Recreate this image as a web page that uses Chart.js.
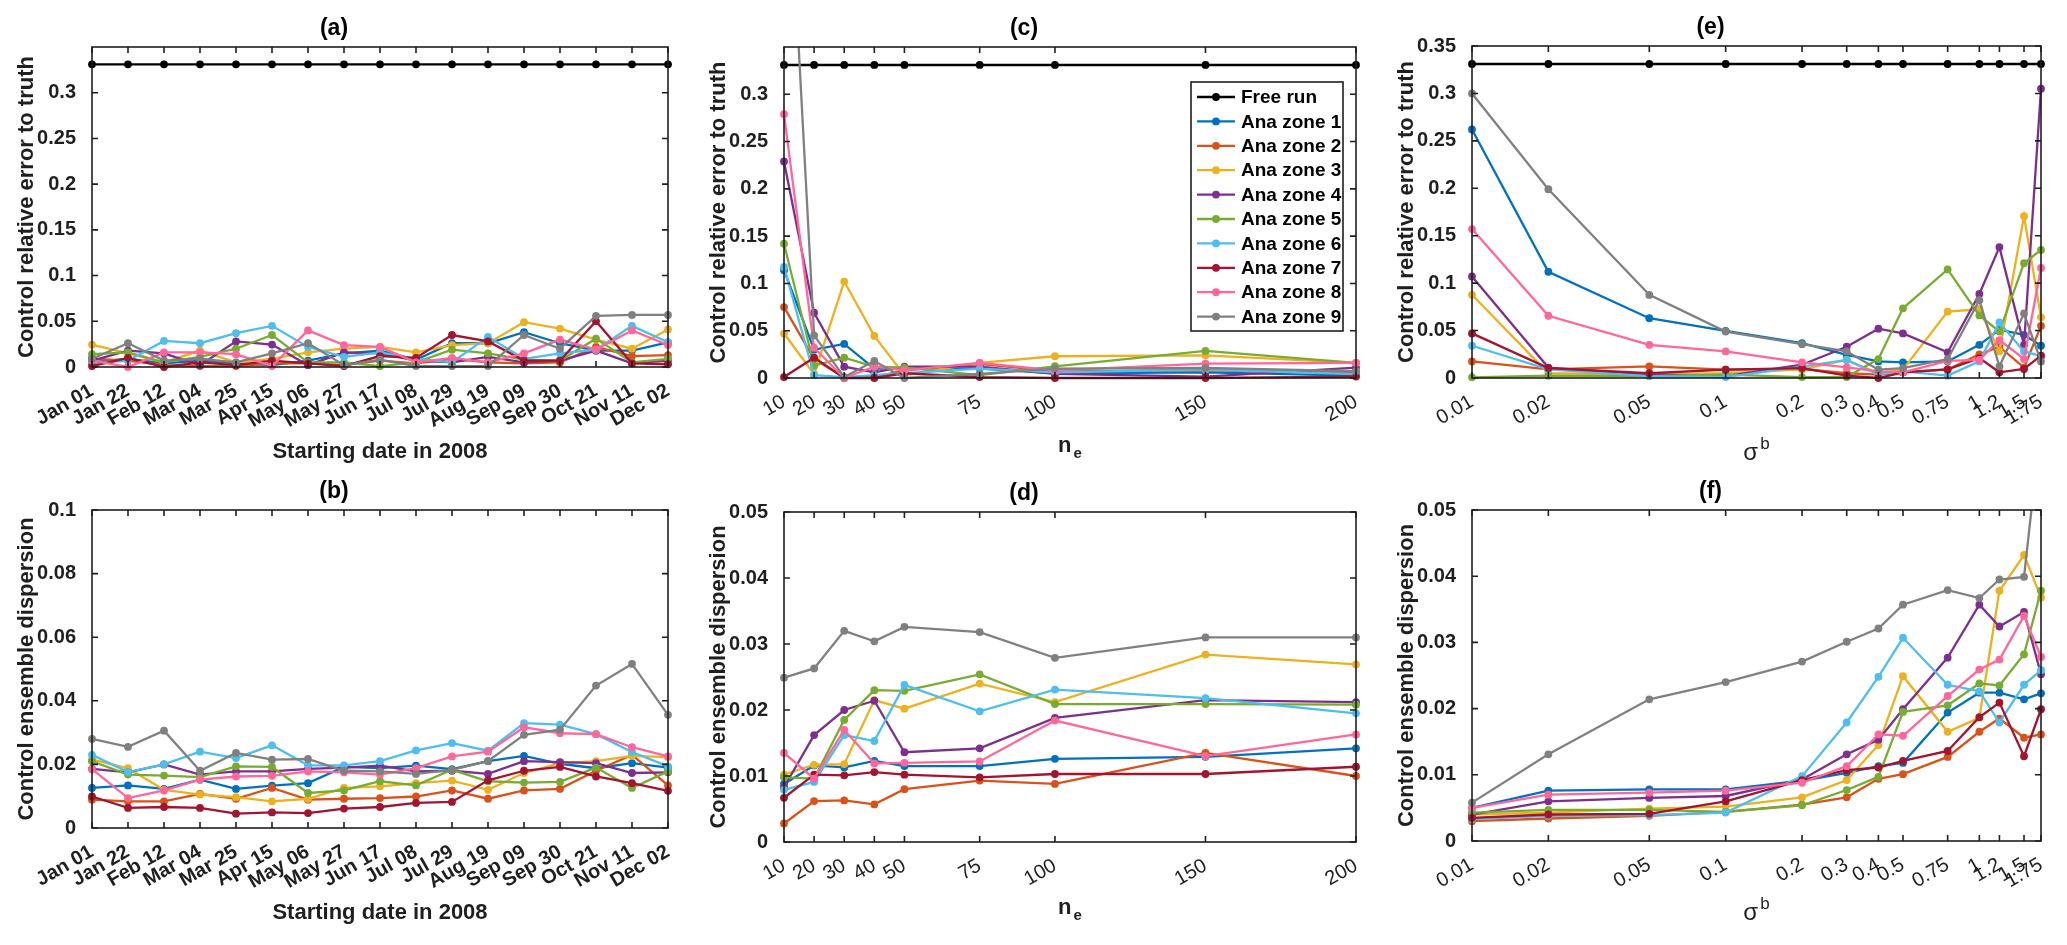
<!DOCTYPE html>
<html>
<head>
<meta charset="utf-8">
<title>Control error and dispersion</title>
<script src="https://cdn.jsdelivr.net/npm/chart.js@4.4.1/dist/chart.umd.min.js"></script>
<style>
  html, body { margin: 0; padding: 0; background: #fff; }
  body { width: 2067px; height: 945px; position: relative; overflow: hidden; }
  .panel { position: absolute; }
  #wa { left: 0px;    top: 5px;   width: 688px; height: 462px; }
  #wb { left: 0px;    top: 468px; width: 688px; height: 460px; }
  #wc { left: 692px;  top: 5px;   width: 684px; height: 468px; }
  #wd { left: 692px;  top: 470px; width: 684px; height: 467px; }
  #we { left: 1380px; top: 4px;   width: 681px; height: 469px; }
  #wf { left: 1380px; top: 468px; width: 681px; height: 468px; }
</style>
</head>
<body>
<div class="panel" id="wa"><canvas id="ca"></canvas></div>
<div class="panel" id="wb"><canvas id="cb"></canvas></div>
<div class="panel" id="wc"><canvas id="cc"></canvas></div>
<div class="panel" id="wd"><canvas id="cd"></canvas></div>
<div class="panel" id="we"><canvas id="ce"></canvas></div>
<div class="panel" id="wf"><canvas id="cf"></canvas></div>
<script>
// x values of the three experiments
const startDates = ['Jan 01', 'Jan 22', 'Feb 12', 'Mar 04', 'Mar 25', 'Apr 15', 'May 06', 'May 27', 'Jun 17',
                    'Jul 08', 'Jul 29', 'Aug 19', 'Sep 09', 'Sep 30', 'Oct 21', 'Nov 11', 'Dec 02'];
const ensembleSizes = [10, 20, 30, 40, 50, 75, 100, 150, 200];
const sigmaB = [0.01, 0.02, 0.05, 0.1, 0.2, 0.3, 0.4, 0.5, 0.75, 1, 1.2, 1.5, 1.75];

const seriesNames = ['Free run', 'Ana zone 1', 'Ana zone 2', 'Ana zone 3', 'Ana zone 4', 'Ana zone 5',
                     'Ana zone 6', 'Ana zone 7', 'Ana zone 8', 'Ana zone 9'];
const seriesColors = ['#000000', '#0072BD', '#D95319', '#EDB120', '#7E2F8E', '#77AC30',
                      '#4DBEEE', '#A2142F', '#FF6699', '#808080'];

// y tick labels
const errorTicks = [0, 0.05, 0.1, 0.15, 0.2, 0.25, 0.3];
const errorTicksSigma = [0, 0.05, 0.1, 0.15, 0.2, 0.25, 0.3, 0.35];
const dispersionTicksDate = [0, 0.02, 0.04, 0.06, 0.08, 0.1];
const dispersionTicks = [0, 0.01, 0.02, 0.03, 0.04, 0.05];

// (a) relative error vs starting date: free run, then zones 1..9
const errorByDate = [
  [0.331, 0.331, 0.331, 0.331, 0.331, 0.331, 0.331, 0.331, 0.331, 0.331, 0.331, 0.331, 0.331, 0.331, 0.331, 0.331, 0.331],
  [0.005, 0.009, 0.004, 0.007, 0.004, 0.002, 0.007, 0.015, 0.018, 0.008, 0.026, 0.026, 0.038, 0.026, 0.018, 0.018, 0.027],
  [0.009, 0.007, 0.002, 0.001, 0.001, 0.004, 0.004, 0.002, 0.007, 0.004, 0.009, 0.005, 0.004, 0.005, 0.022, 0.012, 0.013],
  [0.0245, 0.015, 0.005, 0.018, 0.005, 0.009, 0.016, 0.020, 0.022, 0.016, 0.024, 0.026, 0.049, 0.042, 0.030, 0.020, 0.041],
  [0.007, 0.018, 0.015, 0.002, 0.028, 0.0245, 0.002, 0.016, 0.015, 0.007, 0.005, 0.011, 0.005, 0.007, 0.018, 0.004, 0.007],
  [0.014, 0.016, 0.005, 0.011, 0.020, 0.035, 0.005, 0.005, 0.001, 0.005, 0.019, 0.015, 0.008, 0.007, 0.031, 0.005, 0.009],
  [0.004, 0.007, 0.0285, 0.026, 0.037, 0.045, 0.022, 0.011, 0.016, 0.009, 0.005, 0.033, 0.009, 0.015, 0.019, 0.045, 0.027],
  [0.001, 0.010, 0.000, 0.005, 0.002, 0.007, 0.004, 0.001, 0.012, 0.010, 0.035, 0.028, 0.007, 0.007, 0.050, 0.004, 0.003],
  [0.007, 0.000, 0.016, 0.016, 0.014, 0.001, 0.040, 0.024, 0.022, 0.005, 0.010, 0.005, 0.015, 0.030, 0.019, 0.040, 0.024],
  [0.009, 0.026, 0.007, 0.009, 0.005, 0.015, 0.026, 0.002, 0.008, 0.001, 0.001, 0.001, 0.035, 0.020, 0.056, 0.057, 0.057]
];

// (b) ensemble dispersion vs starting date: zones 1..9
const dispersionByDate = [
  [0.0126, 0.0134, 0.0123, 0.0152, 0.0123, 0.0133, 0.0141, 0.0192, 0.0188, 0.0196, 0.0185, 0.021, 0.0227, 0.0202, 0.0188, 0.0204, 0.019],
  [0.0089, 0.0084, 0.0084, 0.0107, 0.0092, 0.0126, 0.0089, 0.0092, 0.0094, 0.0099, 0.0118, 0.0092, 0.0118, 0.0123, 0.018, 0.023, 0.0134],
  [0.0215, 0.0188, 0.012, 0.0105, 0.0097, 0.0084, 0.0092, 0.0126, 0.0131, 0.0141, 0.0149, 0.012, 0.0173, 0.0204, 0.021, 0.0227, 0.0223],
  [0.0186, 0.0175, 0.020, 0.0168, 0.0178, 0.0178, 0.0186, 0.019, 0.0196, 0.0178, 0.018, 0.017, 0.021, 0.0207, 0.0204, 0.0173, 0.0175],
  [0.021, 0.0168, 0.0165, 0.016, 0.0194, 0.0192, 0.011, 0.0118, 0.0147, 0.0134, 0.0183, 0.0147, 0.0143, 0.0145, 0.019, 0.0126, 0.0178],
  [0.023, 0.0176, 0.020, 0.024, 0.022, 0.026, 0.0197, 0.0197, 0.021, 0.0244, 0.0267, 0.0243, 0.033, 0.0325, 0.0295, 0.0239, 0.0194],
  [0.0099, 0.0063, 0.0066, 0.0063, 0.0045, 0.0049, 0.0047, 0.0061, 0.0066, 0.0079, 0.0082, 0.015, 0.018, 0.0192, 0.0162, 0.0141, 0.0117],
  [0.0185, 0.0094, 0.0118, 0.0152, 0.0162, 0.0164, 0.0178, 0.0175, 0.0168, 0.0188, 0.0225, 0.024, 0.0317, 0.0298, 0.0295, 0.0254, 0.0225],
  [0.028, 0.0255, 0.0306, 0.018, 0.0236, 0.0215, 0.0217, 0.018, 0.0178, 0.017, 0.0183, 0.021, 0.0293, 0.0309, 0.0448, 0.0516, 0.0356]
];

// (c) relative error vs ensemble size: free run, then zones 1..9
const errorBySize = [
  [0.331, 0.331, 0.331, 0.331, 0.331, 0.331, 0.331, 0.331, 0.331],
  [0.114, 0.030, 0.036, 0.010, 0.010, 0.010, 0.005, 0.006, 0.0026],
  [0.075, 0.020, 0.001, 0.001, 0.008, 0.015, 0.007, 0.008, 0.006],
  [0.047, 0.004, 0.102, 0.0445, 0.003, 0.016, 0.023, 0.024, 0.016],
  [0.229, 0.069, 0.012, 0.006, 0.012, 0.012, 0.0044, 0.0015, 0.011],
  [0.142, 0.013, 0.0215, 0.012, 0.011, 0.003, 0.0124, 0.0286, 0.016],
  [0.1175, 0.003, 0.001, 0.003, 0.005, 0.010, 0.006, 0.009, 0.004],
  [0.001, 0.0215, 0.000, 0.000, 0.005, 0.001, 0.000, 0.000, 0.0015],
  [0.279, 0.032, 0.000, 0.012, 0.008, 0.016, 0.008, 0.0153, 0.016],
  [0.64, 0.045, 0.001, 0.018, 0.000, 0.0044, 0.010, 0.0106, 0.0073]
];

// (d) ensemble dispersion vs ensemble size: zones 1..9
const dispersionBySize = [
  [0.0088, 0.0116, 0.0113, 0.0123, 0.0115, 0.0115, 0.0126, 0.0129, 0.0142],
  [0.0028, 0.0062, 0.0063, 0.0057, 0.008, 0.0093, 0.0088, 0.0135, 0.010],
  [0.0102, 0.0117, 0.0118, 0.0215, 0.0202, 0.024, 0.0212, 0.0284, 0.0269],
  [0.0083, 0.0162, 0.020, 0.0214, 0.0136, 0.0142, 0.0188, 0.0215, 0.0212],
  [0.0098, 0.0096, 0.0185, 0.023, 0.0229, 0.0254, 0.0209, 0.0209, 0.0208],
  [0.0079, 0.0091, 0.0162, 0.0153, 0.0238, 0.0198, 0.0231, 0.0218, 0.0195],
  [0.0067, 0.0102, 0.0101, 0.0106, 0.0102, 0.0098, 0.0103, 0.0103, 0.0114],
  [0.0135, 0.0096, 0.017, 0.0119, 0.012, 0.0122, 0.0184, 0.013, 0.0163],
  [0.0249, 0.0263, 0.032, 0.0304, 0.0326, 0.0318, 0.0279, 0.031, 0.031]
];

// (e) relative error vs background error sigma^b: free run, then zones 1..9
const errorBySigma = [
  [0.331, 0.331, 0.331, 0.331, 0.331, 0.331, 0.331, 0.331, 0.331, 0.331, 0.331, 0.331, 0.331],
  [0.262, 0.112, 0.063, 0.0497, 0.0368, 0.0245, 0.0175, 0.0165, 0.0175, 0.035, 0.051, 0.0455, 0.034],
  [0.0175, 0.009, 0.0123, 0.0088, 0.0095, 0.005, 0.0035, 0.006, 0.009, 0.025, 0.033, 0.011, 0.055],
  [0.0877, 0.005, 0.0035, 0.005, 0.009, 0.019, 0.005, 0.009, 0.070, 0.0725, 0.028, 0.1706, 0.064],
  [0.107, 0.011, 0.0035, 0.002, 0.014, 0.033, 0.052, 0.047, 0.027, 0.0886, 0.138, 0.035, 0.305],
  [0.0007, 0.0025, 0.002, 0.0035, 0.001, 0.001, 0.020, 0.0735, 0.1145, 0.066, 0.049, 0.121, 0.135],
  [0.034, 0.009, 0.002, 0.001, 0.012, 0.019, 0.0035, 0.007, 0.0025, 0.0175, 0.0585, 0.028, 0.023],
  [0.047, 0.0105, 0.005, 0.0088, 0.0105, 0.0025, 0.000, 0.006, 0.009, 0.021, 0.006, 0.0095, 0.0235],
  [0.157, 0.0656, 0.035, 0.028, 0.0165, 0.0112, 0.007, 0.006, 0.018, 0.019, 0.040, 0.020, 0.116],
  [0.300, 0.199, 0.0876, 0.049, 0.0357, 0.028, 0.0088, 0.0105, 0.020, 0.082, 0.0123, 0.068, 0.0175]
];

// (f) ensemble dispersion vs sigma^b: zones 1..9
const dispersionBySigma = [
  [0.005, 0.0076, 0.0078, 0.0078, 0.0091, 0.0103, 0.0113, 0.0118, 0.0194, 0.0224, 0.0224, 0.0214, 0.0223],
  [0.003, 0.0034, 0.0038, 0.0044, 0.0055, 0.0066, 0.0094, 0.0101, 0.0127, 0.0165, 0.0185, 0.0156, 0.0161],
  [0.004, 0.0043, 0.0049, 0.0052, 0.0066, 0.0092, 0.0145, 0.0249, 0.0165, 0.0186, 0.0378, 0.0432, 0.0368],
  [0.004, 0.006, 0.0065, 0.0068, 0.0093, 0.0131, 0.0153, 0.0199, 0.0277, 0.0357, 0.0324, 0.0346, 0.0252],
  [0.0043, 0.0047, 0.0047, 0.0044, 0.0054, 0.0077, 0.0097, 0.0195, 0.0205, 0.0238, 0.0235, 0.0282, 0.0378],
  [0.0033, 0.0038, 0.0039, 0.0043, 0.0098, 0.0179, 0.0248, 0.0307, 0.0236, 0.0226, 0.0179, 0.0236, 0.0258],
  [0.0035, 0.004, 0.0041, 0.006, 0.0092, 0.0107, 0.0111, 0.0121, 0.0136, 0.0187, 0.0209, 0.0128, 0.0199],
  [0.005, 0.007, 0.0073, 0.0076, 0.0088, 0.0113, 0.0161, 0.0159, 0.0219, 0.0259, 0.0274, 0.034, 0.0278],
  [0.0058, 0.0131, 0.0214, 0.024, 0.0271, 0.0301, 0.0321, 0.0357, 0.0379, 0.0367, 0.0395, 0.0399, 0.063]
];

const FONT = "'Liberation Sans', Arial, Helvetica, sans-serif";
const INK = '#1f1f1f';
const Y_AXIS_W = 92;

// MATLAB-like box with inward ticks on all four sides
const framePlugin = {
  id: 'frame',
  afterDraw(chart) {
    const { ctx, chartArea: a, scales: { x, y } } = chart;
    const len = 6;
    ctx.save();
    ctx.strokeStyle = INK;
    ctx.lineWidth = 1.6;
    ctx.strokeRect(a.left, a.top, a.right - a.left, a.bottom - a.top);
    ctx.beginPath();
    x.ticks.forEach((t, i) => {
      const px = x.getPixelForTick(i);
      ctx.moveTo(px, a.bottom); ctx.lineTo(px, a.bottom - len);
      ctx.moveTo(px, a.top); ctx.lineTo(px, a.top + len);
    });
    y.ticks.forEach((t, i) => {
      const py = y.getPixelForTick(i);
      ctx.moveTo(a.left, py); ctx.lineTo(a.left + len, py);
      ctx.moveTo(a.right, py); ctx.lineTo(a.right - len, py);
    });
    ctx.stroke();
    ctx.restore();
  }
};

// axis title with a sub- or superscript (n_e, sigma^b)
const scriptTitlePlugin = {
  id: 'scriptTitle',
  afterDraw(chart, args, opts) {
    if (!opts || !opts.base) return;
    const { ctx, chartArea: a } = chart;
    ctx.save();
    ctx.fillStyle = INK;
    ctx.textBaseline = 'middle';
    ctx.textAlign = 'left';
    ctx.font = opts.baseFont;
    const w1 = ctx.measureText(opts.base).width;
    ctx.font = opts.scriptFont;
    const w2 = ctx.measureText(opts.script).width;
    const cx = (a.left + a.right) / 2;
    const cy = a.bottom + opts.offset;
    const x0 = cx - (w1 + w2 + 2) / 2;
    ctx.font = opts.baseFont;
    ctx.fillText(opts.base, x0, cy);
    ctx.font = opts.scriptFont;
    ctx.fillText(opts.script, x0 + w1 + 2, cy + opts.shift);
    ctx.restore();
  }
};

// boxed legend inside panel (c)
const boxLegendPlugin = {
  id: 'boxLegend',
  afterDraw(chart) {
    const { ctx, chartArea: a } = chart;
    const w = 152, h = 249;
    const x0 = a.right - 13 - w, y0 = a.top + 35;
    ctx.save();
    ctx.fillStyle = '#fff';
    ctx.fillRect(x0, y0, w, h);
    ctx.strokeStyle = INK;
    ctx.lineWidth = 1.6;
    ctx.strokeRect(x0, y0, w, h);
    ctx.font = 'bold 19px ' + FONT;
    ctx.textBaseline = 'middle';
    ctx.textAlign = 'left';
    seriesNames.forEach((name, i) => {
      const yy = y0 + 15 + i * 24.4;
      const col = seriesColors[i];
      ctx.strokeStyle = col;
      ctx.lineWidth = 2.3;
      ctx.beginPath();
      ctx.moveTo(x0 + 6, yy); ctx.lineTo(x0 + 44, yy);
      ctx.stroke();
      ctx.fillStyle = col;
      ctx.beginPath();
      ctx.arc(x0 + 25, yy, 3.9, 0, Math.PI * 2);
      ctx.fill();
      ctx.fillStyle = '#000';
      ctx.fillText(name, x0 + 50, yy + 1);
    });
    ctx.restore();
  }
};

function fmtTick(v) {
  return v === 0 ? '0' : String(+Number(v).toFixed(3));
}

function makeDatasets(rows, firstSeries, xValues) {
  return rows.map((row, r) => {
    const s = firstSeries + r;
    const col = seriesColors[s];
    return {
      label: seriesNames[s],
      data: xValues ? xValues.map((xv, j) => ({ x: xv, y: row[j] })) : row,
      borderColor: col,
      backgroundColor: col,
      pointBackgroundColor: col,
      pointBorderColor: col,
      pointRadius: 3.9,
      pointHoverRadius: 3.9,
      pointBorderWidth: 0,
      borderWidth: s === 0 ? 2.4 : 2.3,
      tension: 0,
      order: seriesNames.length - s,
      clip: { left: 8, right: 8, top: 0, bottom: 8 }
    };
  });
}

function makePanel(canvasId, p) {
  const xScale = {
    grid: { display: false },
    border: { display: false },
    ticks: {
      autoSkip: false, minRotation: 30, maxRotation: 30, padding: 4, color: INK,
      font: { family: FONT, size: 20, weight: p.xBold ? 'bold' : 'normal' }
    },
    title: p.xTitle ? {
      display: true, text: p.xTitle, color: INK,
      font: { family: FONT, size: 22, weight: 'bold' }, padding: { top: 0, bottom: 2 }
    } : { display: false },
    afterFit(s) { s.height = p.xAxisH; s.paddingLeft = 0; s.paddingRight = 0; }
  };
  if (p.xType === 'category') {
    xScale.type = 'category';
    xScale.offset = false;
  } else {
    xScale.type = p.xType;
    xScale.min = p.xValues[0];
    xScale.max = p.xValues[p.xValues.length - 1];
    xScale.afterBuildTicks = (s) => { s.ticks = p.xValues.map(v => ({ value: v })); };
    xScale.ticks.callback = (v) => fmtTick(v);
  }

  const plugins = [framePlugin, scriptTitlePlugin];
  if (p.legend) plugins.push(boxLegendPlugin);

  return new Chart(document.getElementById(canvasId), {
    type: 'line',
    data: {
      labels: p.xType === 'category' ? startDates : undefined,
      datasets: makeDatasets(p.rows, p.firstSeries, p.xType === 'category' ? null : p.xValues)
    },
    options: {
      responsive: true,
      maintainAspectRatio: false,
      animation: false,
      events: [],
      layout: { padding: { left: 0, right: 20, top: 0, bottom: 0 } },
      plugins: {
        legend: { display: false },
        tooltip: { enabled: false },
        title: {
          display: true, text: p.title, color: '#000',
          font: { family: FONT, size: 23, weight: 'bold' },
          padding: { top: 10, bottom: 4.4 }
        },
        scriptTitle: p.scriptTitle || {}
      },
      scales: {
        x: xScale,
        y: {
          min: 0, max: p.yMax,
          grid: { display: false },
          border: { display: false },
          afterBuildTicks(s) { s.ticks = p.yTicks.map(v => ({ value: v })); },
          afterFit(s) { s.width = Y_AXIS_W; s.paddingTop = 0; s.paddingBottom = 0; },
          ticks: {
            padding: 8, color: INK, callback: (v) => fmtTick(v),
            font: { family: FONT, size: 20, weight: 'bold' }
          },
          title: {
            display: true, text: p.yTitle, color: INK,
            font: { family: FONT, size: 22, weight: 'bold' }, padding: { top: 14, bottom: 0 }
          }
        }
      }
    },
    plugins: plugins
  });
}

const errLabel = 'Control relative error to truth';
const dispLabel = 'Control ensemble dispersion';
const neTitle = { base: 'n', script: 'e', baseFont: 'bold 22px ' + FONT, scriptFont: 'bold 15px ' + FONT, shift: 8, offset: 68 };
const sigmaTitle = (off) => ({ base: '\u03C3', script: 'b', baseFont: '24px ' + FONT, scriptFont: '17px ' + FONT, shift: -9, offset: off });

makePanel('ca', { title: '(a)', xType: 'category', xBold: true, xTitle: 'Starting date in 2008', xAxisH: 100,
  rows: errorByDate, firstSeries: 0, yMax: 0.35, yTicks: errorTicks, yTitle: errLabel });
makePanel('cb', { title: '(b)', xType: 'category', xBold: true, xTitle: 'Starting date in 2008', xAxisH: 100,
  rows: dispersionByDate, firstSeries: 1, yMax: 0.1, yTicks: dispersionTicksDate, yTitle: dispLabel });
makePanel('cc', { title: '(c)', xType: 'linear', xValues: ensembleSizes, xAxisH: 95, scriptTitle: neTitle,
  rows: errorBySize, firstSeries: 0, yMax: 0.35, yTicks: errorTicks, yTitle: errLabel, legend: true });
makePanel('cd', { title: '(d)', xType: 'linear', xValues: ensembleSizes, xAxisH: 95, scriptTitle: Object.assign({}, neTitle, { offset: 66 }),
  rows: dispersionBySize, firstSeries: 1, yMax: 0.05, yTicks: dispersionTicks, yTitle: dispLabel });
makePanel('ce', { title: '(e)', xType: 'logarithmic', xValues: sigmaB, xAxisH: 95, scriptTitle: sigmaTitle(75),
  rows: errorBySigma, firstSeries: 0, yMax: 0.35, yTicks: errorTicksSigma, yTitle: errLabel });
makePanel('cf', { title: '(f)', xType: 'logarithmic', xValues: sigmaB, xAxisH: 95, scriptTitle: sigmaTitle(72),
  rows: dispersionBySigma, firstSeries: 1, yMax: 0.05, yTicks: dispersionTicks, yTitle: dispLabel });
</script>
</body>
</html>
